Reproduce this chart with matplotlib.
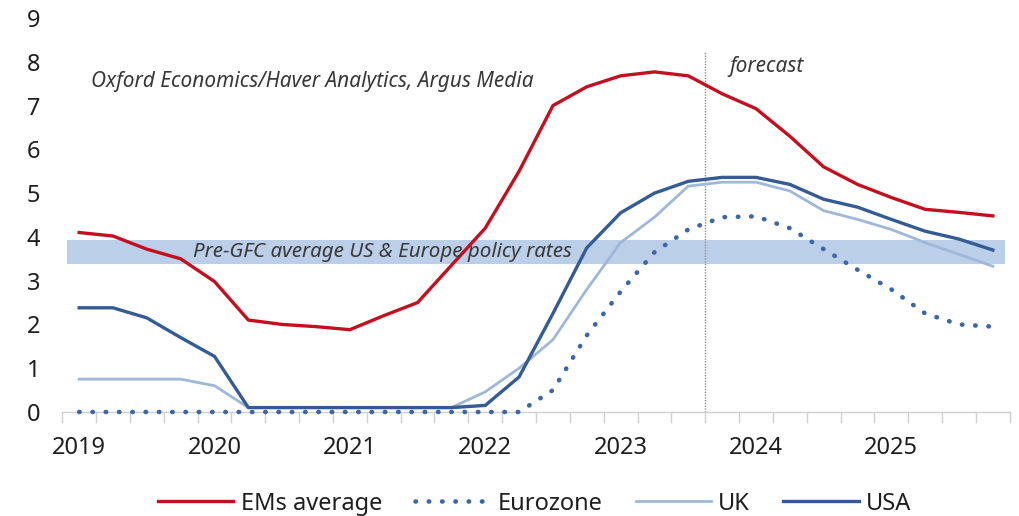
import numpy as np
import matplotlib.pyplot as plt

# Policy rates, quarterly 2019Q1 - 2025Q4 (%)
quarters = np.arange(28)
year_labels = ['2019', '2020', '2021', '2022', '2023', '2024', '2025']

ems_avg = [4.10, 4.02, 3.72, 3.50, 2.98, 2.10, 2.00, 1.95, 1.88, 2.20, 2.50, 3.35,
           4.20, 5.50, 7.00, 7.43, 7.68, 7.77, 7.68, 7.27, 6.93, 6.30, 5.60, 5.20,
           4.90, 4.63, 4.56, 4.48]
eurozone = [0.0, 0.0, 0.0, 0.0, 0.0, 0.0, 0.0, 0.0, 0.0, 0.0, 0.0, 0.0,
            0.0, 0.0, 0.50, 1.75, 2.75, 3.65, 4.17, 4.45, 4.47, 4.20, 3.72, 3.25,
            2.80, 2.25, 2.00, 1.95]
uk = [0.75, 0.75, 0.75, 0.75, 0.60, 0.10, 0.10, 0.10, 0.10, 0.10, 0.10, 0.10,
      0.46, 1.00, 1.65, 2.80, 3.87, 4.45, 5.16, 5.25, 5.25, 5.05, 4.60, 4.40,
      4.17, 3.87, 3.60, 3.33]
usa = [2.38, 2.38, 2.15, 1.70, 1.27, 0.10, 0.10, 0.10, 0.10, 0.10, 0.10, 0.10,
       0.15, 0.80, 2.25, 3.75, 4.55, 5.00, 5.27, 5.36, 5.36, 5.20, 4.86, 4.68,
       4.40, 4.13, 3.95, 3.70]

pre_gfc_band = (3.37, 3.93)
forecast_start = 18.5

plt.rcParams['font.family'] = ['Noto Sans', 'DejaVu Sans']
text_col = '#1e1e1e'
note_col = '#383838'

fig = plt.figure(figsize=(10.2, 5.16), dpi=100)
ax = fig.add_axes([0.061, 0.2016, 0.929, 0.7634])

# shaded pre-GFC range
ax.fill_between([-0.35, 27.35], pre_gfc_band[0], pre_gfc_band[1],
                color='#bccfe8', lw=0, zorder=1)
ax.text(3.35, np.mean(pre_gfc_band), 'Pre-GFC average US & Europe policy rates',
        style='italic', fontsize=14.8, color=note_col, va='center', zorder=5)

ax.plot([forecast_start, forecast_start], [0, 8.25], color='#8c8c8c',
        lw=1, ls=(0, (1, 1)), zorder=2, clip_on=False)
ax.text(forecast_start + 0.72, 7.9, 'forecast', style='italic', fontsize=15,
        color=note_col, va='center')
ax.text(0.35, 7.55, 'Oxford Economics/Haver Analytics, Argus Media',
        style='italic', fontsize=15, color=note_col, va='center')

ax.plot(quarters, ems_avg, color='#c40f1e', lw=2.4, label='EMs average',
        zorder=4, clip_on=False)
ax.plot(quarters, eurozone, color='#3d66a6', lw=3.3, ls=(0, (0.1, 2.8)),
        dash_capstyle='round', label='Eurozone', zorder=3, clip_on=False)
ax.plot(quarters, uk, color='#9fb8da', lw=2.0, label='UK', zorder=3,
        clip_on=False)
ax.plot(quarters, usa, color='#345b93', lw=2.4, label='USA', zorder=4,
        clip_on=False)

ax.set_xlim(-0.5, 27.5)
ax.set_ylim(0, 9)
ax.set_yticks(range(10))
ax.set_xticks(np.arange(0, 28, 4))
ax.set_xticklabels(year_labels)
ax.set_xticks(np.arange(-0.5, 28, 1), minor=True)
ax.tick_params(axis='y', length=0, pad=16, labelsize=17, labelcolor=text_col)
ax.tick_params(axis='x', which='major', length=0, pad=17, labelsize=17,
               labelcolor=text_col)
ax.tick_params(axis='x', which='minor', length=8, width=1, color='#d0d0d0')
for lbl in ax.get_xticklabels() + ax.get_yticklabels():
    lbl.set_fontweight('medium')

for side in ['top', 'right', 'left']:
    ax.spines[side].set_visible(False)
ax.spines['bottom'].set_color('#d0d0d0')
ax.spines['bottom'].set_linewidth(1)

leg = fig.legend(loc='center', bbox_to_anchor=(0.524, 0.024), ncol=4,
                 frameon=False, fontsize=17, handlelength=3.2,
                 handletextpad=0.3, columnspacing=1.4, labelcolor=text_col)
for t in leg.get_texts():
    t.set_fontweight('medium')

fig.savefig('out.png', dpi=100, facecolor='white')
